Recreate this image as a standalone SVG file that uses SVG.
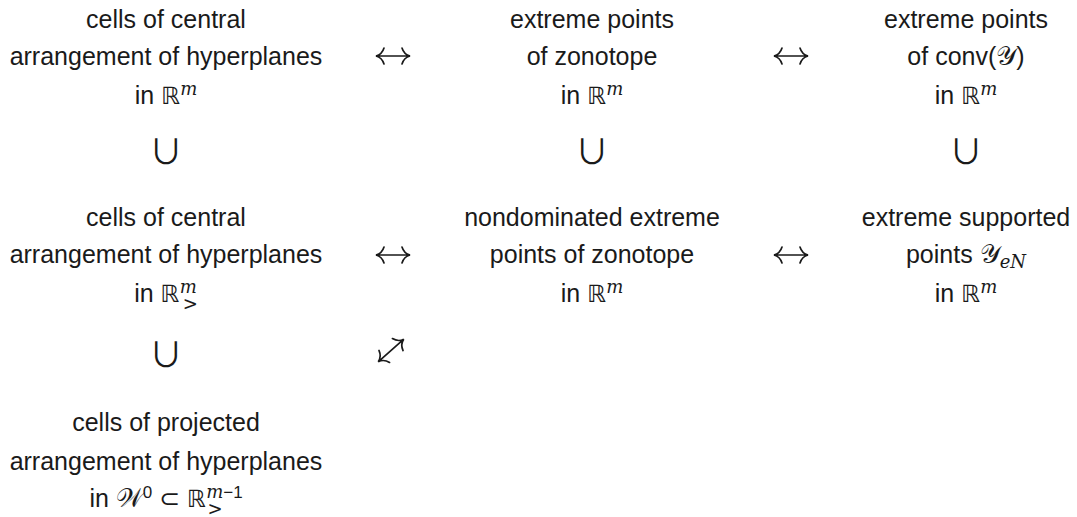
<svg xmlns="http://www.w3.org/2000/svg" xmlns:xlink="http://www.w3.org/1999/xlink" width="1077" height="517" viewBox="0 0 1077 517">
<style>
  .t { font-family: "Liberation Sans", "DejaVu Sans", sans-serif; font-size: 25px; fill: #1a1a1a; text-anchor: middle; }
  .m { font-family: "DejaVu Serif", "Liberation Serif", serif; font-style: italic; font-size: 18px; }
  .s { font-size: 17px; }
  .bb { font-family: "DejaVu Sans", sans-serif; font-size: 24px; }
  .cal { font-family: "DejaVu Serif", "Noto Sans", serif; font-size: 26px; }
  .cup { font-family: "Noto Sans CJK JP", "DejaVu Sans", sans-serif; font-size: 34px; fill: #1a1a1a; text-anchor: middle; }
  .arr { fill: none; stroke: #1a1a1a; stroke-width: 1.7; stroke-linecap: round; }
</style>
<defs>
  <g id="lr">
    <path class="arr" d="M-16,0 H16 M-9,-8 Q-11,-1.5 -17,0 Q-11,1.5 -9,8 M9,-8 Q11,-1.5 17,0 Q11,1.5 9,8"/>
  </g>
</defs>
<rect width="1077" height="517" fill="#ffffff"/>

<g id="n11">
  <text class="t" x="166" y="28">cells of central</text>
  <text class="t" x="166" y="65">arrangement of hyperplanes</text>
  <text class="t" x="166" y="104">in <tspan class="bb">ℝ</tspan><tspan class="m" dy="-9">m</tspan></text>
</g>
<g id="n12">
  <text class="t" x="592" y="28">extreme points</text>
  <text class="t" x="592" y="65">of zonotope</text>
  <text class="t" x="592" y="104">in <tspan class="bb">ℝ</tspan><tspan class="m" dy="-9">m</tspan></text>
</g>
<g id="n13">
  <text class="t" x="966" y="28">extreme points</text>
  <text class="t" x="966" y="65">of conv(<tspan class="cal">𝒴</tspan>)</text>
  <text class="t" x="966" y="104">in <tspan class="bb">ℝ</tspan><tspan class="m" dy="-9">m</tspan></text>
</g>

<g id="n21">
  <text class="t" x="166" y="226">cells of central</text>
  <text class="t" x="166" y="263">arrangement of hyperplanes</text>
  <text class="t" x="166" y="302">in <tspan class="bb">ℝ</tspan><tspan class="m" dy="-9">m</tspan><tspan class="m" dx="-14" dy="17">&gt;</tspan></text>
</g>
<g id="n22">
  <text class="t" x="592" y="226">nondominated extreme</text>
  <text class="t" x="592" y="263">points of zonotope</text>
  <text class="t" x="592" y="302">in <tspan class="bb">ℝ</tspan><tspan class="m" dy="-9">m</tspan></text>
</g>
<g id="n23">
  <text class="t" x="966" y="226">extreme supported</text>
  <text class="t" x="966" y="263">points <tspan class="cal">𝒴</tspan><tspan class="m" dy="5">eN</tspan></text>
  <text class="t" x="966" y="302">in <tspan class="bb">ℝ</tspan><tspan class="m" dy="-9">m</tspan></text>
</g>

<g id="n31">
  <text class="t" x="166" y="431">cells of projected</text>
  <text class="t" x="166" y="470">arrangement of hyperplanes</text>
  <text class="t" x="166" y="507">in <tspan class="cal">𝒲</tspan><tspan class="s" dy="-9">0</tspan><tspan dy="9"> ⊂ </tspan><tspan class="bb">ℝ</tspan><tspan class="m" dy="-9">m</tspan><tspan class="s">−1</tspan><tspan class="m" dx="-35" dy="17">&gt;</tspan></text>
</g>

<g id="subsets">
  <text class="cup" x="166" y="164">∪</text>
  <text class="cup" x="592" y="164">∪</text>
  <text class="cup" x="966" y="164">∪</text>
  <text class="cup" x="166" y="367">∪</text>
</g>

<g id="connectors">
  <use xlink:href="#lr" transform="translate(393,56)"/>
  <use xlink:href="#lr" transform="translate(791,56)"/>
  <use xlink:href="#lr" transform="translate(393,255)"/>
  <use xlink:href="#lr" transform="translate(791,255)"/>
  <use xlink:href="#lr" transform="translate(391,350.5) rotate(-41.5)"/>
</g>
</svg>
